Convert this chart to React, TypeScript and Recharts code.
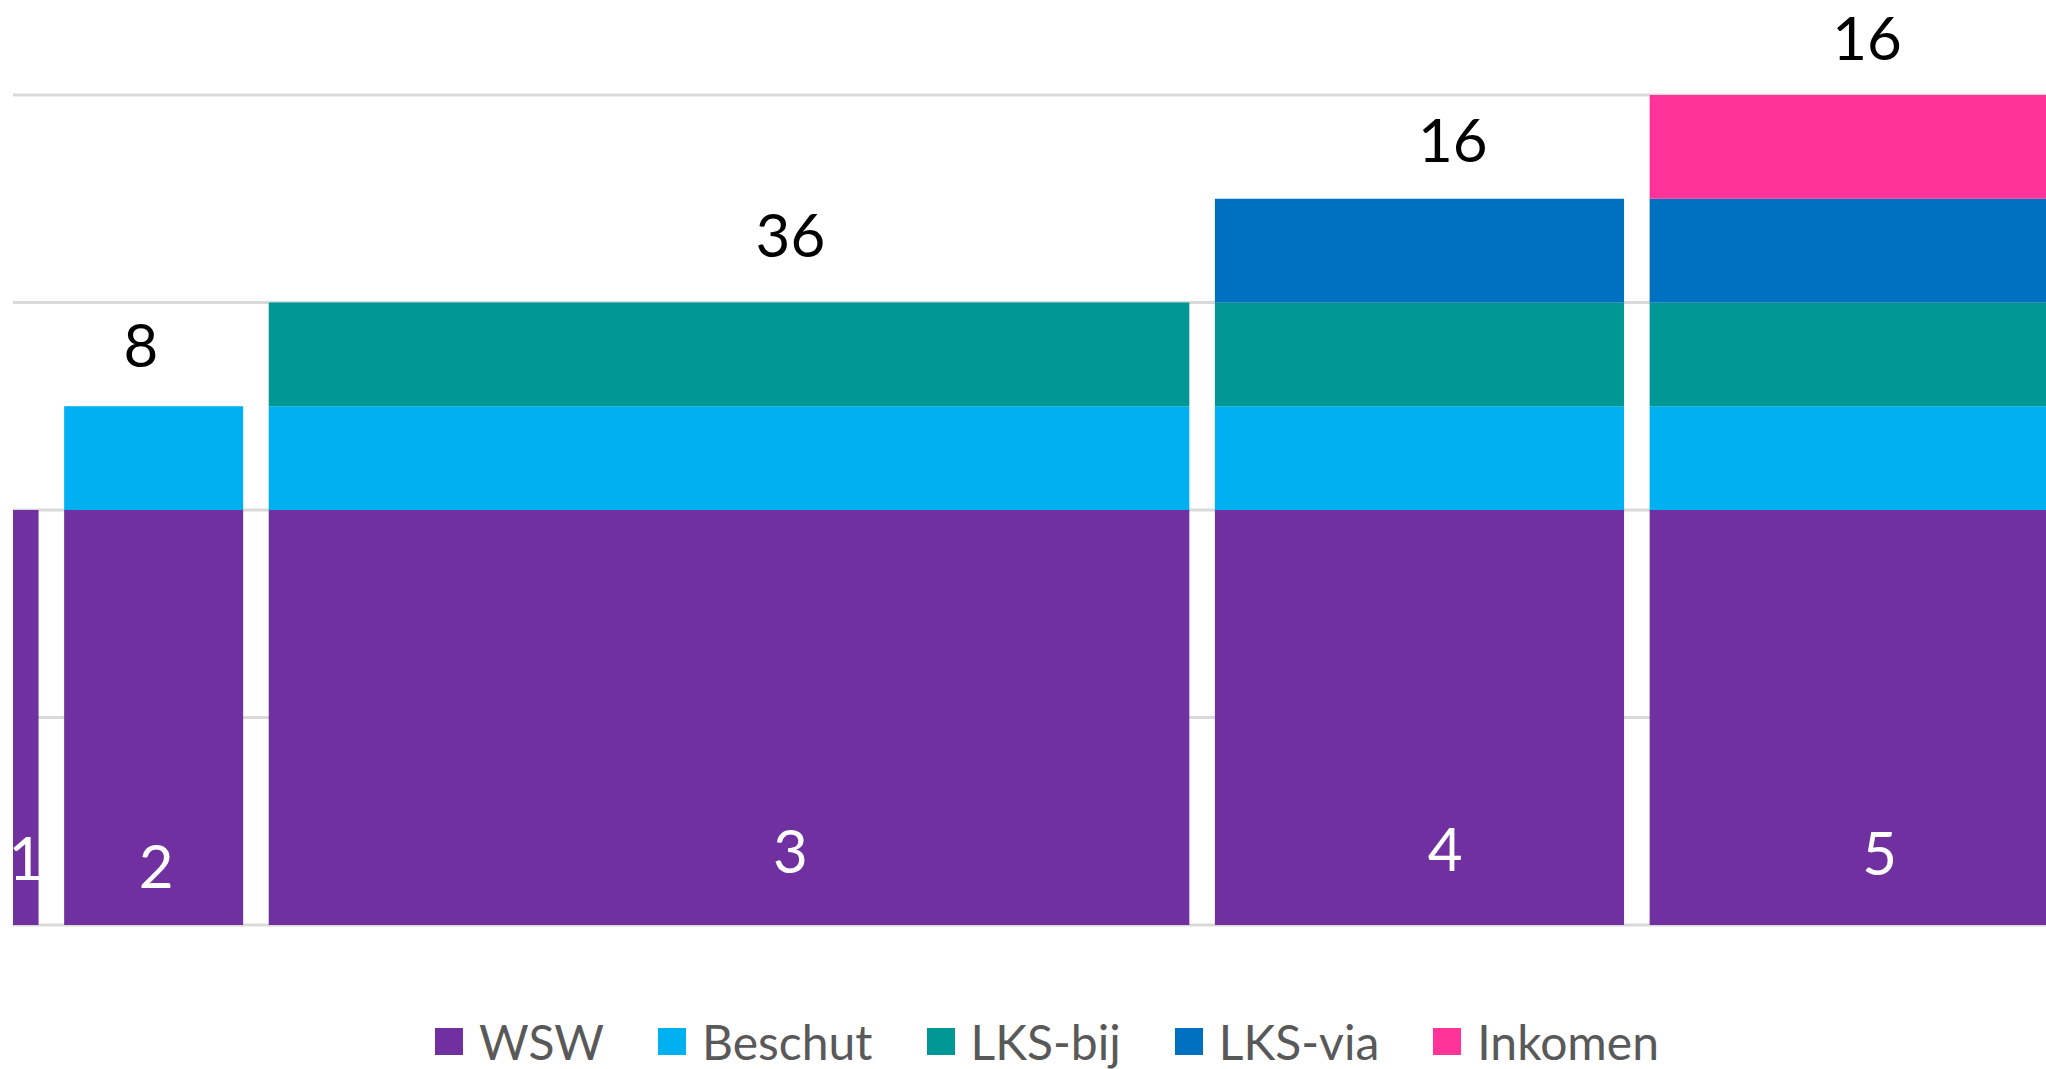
import React from "react";
import {
  ComposedChart,
  Area,
  Scatter,
  XAxis,
  YAxis,
  CartesianGrid,
  Legend,
} from "recharts";

// groups along the x axis (widths in the same units as the axis)
const groups = ["1", "2", "3", "4", "5"];
const groupStart = [0, 2, 10, 47, 64];
const groupEnd = [1, 9, 46, 63, 80];
const counts = ["", "8", "36", "16", "16"];

// stacked segment heights per group
const wsw = [2, 2, 2, 2, 2];
const beschut = [0, 0.5, 0.5, 0.5, 0.5];
const lksBij = [0, 0, 0.5, 0.5, 0.5];
const lksVia = [0, 0, 0, 0.5, 0.5];
const inkomen = [0, 0, 0, 0, 0.5];

// label positions
const groupLabelX = [0.5, 5.6, 30.4, 56.0, 73.0];
const groupLabelY = [0.33, 0.29, 0.36, 0.37, 0.35];
const countLabelX = [0.5, 5.0, 30.4, 56.3, 72.5];
const countLabelY = [2.3, 2.8, 3.33, 3.79, 4.28];

const yTicks = [0, 1, 2, 3, 4];

const series = [
  { key: "wsw", name: "WSW", color: "#7030A0", values: wsw },
  { key: "beschut", name: "Beschut", color: "#00B0F0", values: beschut },
  { key: "lksBij", name: "LKS-bij", color: "#009794", values: lksBij },
  { key: "lksVia", name: "LKS-via", color: "#0070C0", values: lksVia },
  { key: "inkomen", name: "Inkomen", color: "#FF3399", values: inkomen },
];

const FONT = "Lato, Carlito, Calibri, sans-serif";

// each group: a row at its start with the values, a row at its end back to zero
const data = groups.flatMap((_, i) => {
  const start: Record<string, number> = { x: groupStart[i] };
  const end: Record<string, number> = { x: groupEnd[i] };
  series.forEach((s) => {
    start[s.key] = s.values[i];
    end[s.key] = 0;
  });
  return [start, end];
});

const groupLabels = groups.map((g, i) => ({ x: groupLabelX[i], y: groupLabelY[i], label: g }));
const countLabels = counts
  .map((c, i) => ({ x: countLabelX[i], y: countLabelY[i], label: c }))
  .filter((d) => d.label !== "");

const textShape = (fill: string) => (props: any) => (
  <text
    x={props.cx}
    y={props.cy}
    textAnchor="middle"
    dominantBaseline="central"
    fill={fill}
    fontSize={60}
    fontFamily={FONT}
  >
    {props.payload.label}
  </text>
);

function LegendRow() {
  return (
    <div
      style={{
        display: "flex",
        justifyContent: "center",
        alignItems: "center",
        height: 56,
        paddingLeft: 48,
        fontFamily: FONT,
        fontSize: 48,
        color: "#595959",
      }}
    >
      {series.map((s) => (
        <div key={s.key} style={{ display: "flex", alignItems: "center", margin: "0 27px" }}>
          <span style={{ width: 28, height: 27, background: s.color, marginRight: 16, display: "inline-block" }} />
          <span>{s.name}</span>
        </div>
      ))}
    </div>
  );
}

export default function App() {
  return (
    <div style={{ position: "absolute", left: 0, top: 0, background: "#fff" }}>
      <ComposedChart width={2046} height={1069} data={data} margin={{ top: 12, right: 0, bottom: 144, left: 13 }}>
        <CartesianGrid vertical={false} horizontalValues={yTicks} stroke="#D9D9D9" strokeWidth={3} />
        <XAxis dataKey="x" type="number" domain={[0, 79.5]} allowDataOverflow hide />
        <YAxis type="number" domain={[0, 4.4]} ticks={yTicks} allowDataOverflow hide width={0} />
        {series.map((s) => (
          <Area
            key={s.key}
            dataKey={s.key}
            name={s.name}
            stackId="a"
            type="stepAfter"
            fill={s.color}
            fillOpacity={1}
            stroke="none"
            isAnimationActive={false}
          />
        ))}
        <Scatter data={groupLabels} dataKey="y" shape={textShape("#FFFFFF")} legendType="none" isAnimationActive={false} />
        <Scatter data={countLabels} dataKey="y" shape={textShape("#000000")} legendType="none" isAnimationActive={false} />
        <Legend
          layout="horizontal"
          verticalAlign="middle"
          align="center"
          content={() => <LegendRow />}
          wrapperStyle={{ top: 1013, left: 0, width: 2046 }}
        />
      </ComposedChart>
    </div>
  );
}
